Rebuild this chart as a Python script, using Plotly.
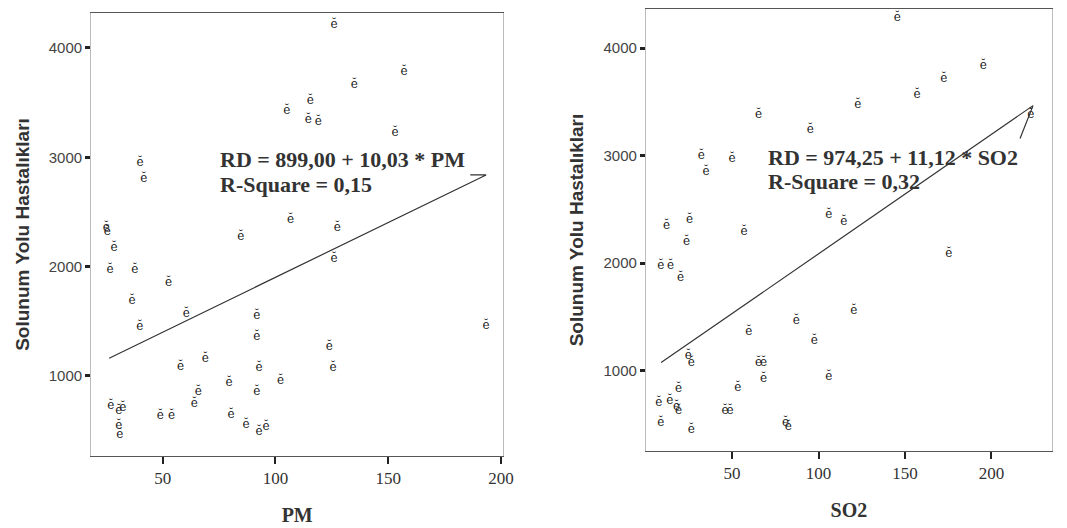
import plotly.graph_objects as go

# Left panel: PM vs respiratory diseases
pm = [126, 157, 135, 105, 115.5, 114.6, 119, 153, 40, 41.6, 25, 25.5, 28.5, 84.7, 106.7, 127.4, 126,
      26.7, 37.7, 52.6, 36.4, 60.5, 39.9, 91.8, 91.8, 193.4, 123.9, 68.9, 57.9, 92.7, 125.6, 102.3,
      79.5, 65.8, 91.8, 64, 27, 30.6, 32.4, 49, 54, 80.3, 30.6, 31, 87, 92.7, 95.8]
rd_pm = [4211, 3781, 3662, 3425, 3516, 3342, 3324, 3223, 2949, 2802, 2354, 2320, 2171, 2272, 2427, 2354, 2070,
         1970, 1970, 1851, 1686, 1567, 1448, 1549, 1357, 1457, 1265, 1156, 1082, 1073, 1073, 954,
         936, 854, 854, 744, 726, 680, 707, 634, 634, 643, 543, 460, 552, 488, 533]

# Right panel: SO2 vs respiratory diseases
so2 = [145.5, 195.3, 172.4, 157, 122.7, 65.4, 95.2, 222.8, 32.3, 50, 35, 106, 114.6, 12.2, 25.4, 23.7,
       56.9, 175.3, 8.8, 14.5, 20.3, 120.4, 87.2, 59.7, 97.5, 24.8, 26.5, 65.4, 68.3, 68.3, 106,
       19.1, 53.4, 7.7, 14, 18, 19.1, 46, 48.9, 8.8, 26.5, 81, 82.6]
rd_so2 = [4280, 3832, 3710, 3561, 3467, 3374, 3243, 3374, 3000, 2972, 2850, 2449, 2383, 2346, 2402, 2196,
          2290, 2084, 1972, 1972, 1860, 1551, 1458, 1355, 1271, 1140, 1075, 1075, 1075, 925, 944,
          832, 841, 701, 720, 664, 626, 626, 626, 514, 449, 514, 477]

# Fit coefficients as printed on the chart
pm_a, pm_b = 899.00, 10.03
so2_a, so2_b = 974.25, 11.12

y_title = "Solunum Yolu Hastalıkları"
eq_pm_1 = "RD = 899,00 + 10,03 * PM"
eq_pm_2 = "R-Square = 0,15"
eq_so2_1 = "RD = 974,25 + 11,12 * SO2"
eq_so2_2 = "R-Square = 0,32"

W, H = 1067, 528
fig = go.Figure()

mk = dict(mode="text", text="ĕ", textfont=dict(size=12, color="#222", family="DejaVu Serif"),
          showlegend=False, hoverinfo="skip")
fig.add_trace(go.Scatter(x=pm, y=rd_pm, xaxis="x", yaxis="y", **mk))
fig.add_trace(go.Scatter(x=so2, y=rd_so2, xaxis="x2", yaxis="y2", **mk))

# regression lines (from min to max of x), with the small label leader stroke at the end
x0, x1 = 26.3, max(pm)
lx = [x0, x1, x1 - 7]
ly = [pm_a + pm_b * x0, pm_a + pm_b * x1, pm_a + pm_b * x1]
fig.add_trace(go.Scatter(x=lx, y=ly, mode="lines", line=dict(color="#333", width=1.2),
                         xaxis="x", yaxis="y", showlegend=False, hoverinfo="skip"))
s0, s1 = 9, 224
sx = [s0, s1, s1 - 7.5]
sy = [so2_a + so2_b * s0, so2_a + so2_b * s1, 3160]
fig.add_trace(go.Scatter(x=sx, y=sy, mode="lines", line=dict(color="#333", width=1.2),
                         xaxis="x2", yaxis="y2", showlegend=False, hoverinfo="skip"))

xax = dict(showgrid=False, zeroline=False, showline=True, mirror=True, linecolor="#555", linewidth=1,
           ticks="outside", ticklen=7, tickwidth=2, tickcolor="#222",
           tickvals=[50, 100, 150, 200],
           tickfont=dict(family="Liberation Serif", size=17, color="#333"),
           title=dict(font=dict(family="Liberation Serif", size=20, color="#333", weight="bold"), standoff=20))
yax = dict(showgrid=False, zeroline=False, showline=True, mirror=True, linecolor="#bbb", linewidth=1,
           ticks="outside", ticklen=5, tickwidth=2.5, tickcolor="#222",
           tickvals=[1000, 2000, 3000, 4000],
           tickfont=dict(family="Liberation Sans", size=15, color="#444"),
           title=dict(text=y_title, font=dict(family="Liberation Sans", size=19, color="#333", weight="bold"),
                      standoff=14))

eqfont = dict(family="Liberation Serif", size=22, color="#333", weight="bold")


def eq(text, x, y):
    return dict(text=text, xref="paper", yref="paper", x=x / W, y=1 - y / H, xanchor="left",
                yanchor="middle", showarrow=False, font=eqfont)


fig.update_layout(
    width=W, height=H, margin=dict(l=0, r=0, t=0, b=0),
    paper_bgcolor="white", plot_bgcolor="white",
    xaxis=dict(xax, domain=[92 / W, 508 / W], range=[18.3, 201], anchor="y", title_text="PM"),
    yaxis=dict(yax, domain=[1 - 456 / H, 1 - 13 / H], range=[268, 4320], anchor="x"),
    xaxis2=dict(xax, domain=[652 / W, 1062 / W], range=[0.2, 235], anchor="y2", title_text="SO2"),
    yaxis2=dict(yax, domain=[1 - 451 / H, 1 - 9 / H], range=[252, 4364], anchor="x2"),
    annotations=[
        eq(eq_pm_1, 220, 160), eq(eq_pm_2, 220, 184),
        eq(eq_so2_1, 773, 157), eq(eq_so2_2, 773, 181),
    ],
)

fig.write_html("out.html")
